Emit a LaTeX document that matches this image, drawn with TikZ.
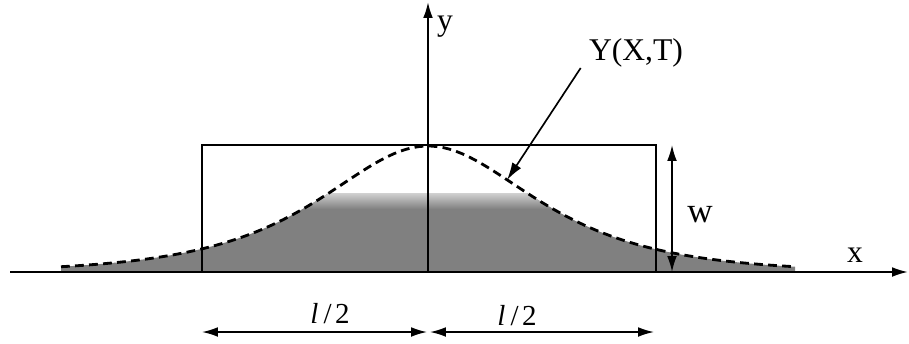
\documentclass[tikz,border=0pt]{standalone}
\usepackage{fontspec}
\setmainfont{Liberation Serif}
\usetikzlibrary{arrows.meta, positioning}

\begin{document}
\begin{tikzpicture}[x=0.02cm, y=0.02cm,
		axis/.style={-{Latex[length=9pt, width=5.5pt]}, line width=1.05pt},
		dimarrow/.style={{Latex[length=9pt, width=5.5pt]}-{Latex[length=9pt, width=5.5pt]}, line width=0.95pt},
		profile/.style={dash pattern=on 5pt off 3pt, line width=1.6pt},
		lbl/.style={anchor=base, inner sep=0pt, font=\fontsize{18}{20}\selectfont}
	]
	\useasboundingbox (0,0) rectangle (909,343);
	% shaded part of the profile
	\begin{scope}
		\clip (61,71) -- plot[domain=-367:367, samples=120] ({428+\x}, {71+126/cosh(\x/95)}) -- (795,71) -- cycle;
		\fill[black!50] (0,71) rectangle (909,150);
		\shade[top color=black!18, bottom color=black!50] (0,134) rectangle (909,150);
	\end{scope}
	\coordinate (xstart) at (10,71);
	\coordinate (xend) at (908,71);
	\coordinate (o) at (428,71);
	\coordinate (ytop) at (428,341);
	\coordinate (rbl) at (202,71);
	\coordinate (rtr) at (656,198);
	\coordinate (wtop) at (672,198);
	\coordinate (wbot) at (672,71);
	\coordinate (dl) at (202,11);
	\coordinate (dm1) at (427,11);
	\coordinate (dm2) at (430,11);
	\coordinate (dr) at (654,11);
	\coordinate (ptip) at (507,163);
	\draw[line width=1.4pt] (rbl) rectangle (rtr);
	\draw[profile] plot[domain=-367:367, samples=120] ({428+\x}, {71+126/cosh(\x/95)});
	\draw[axis] (xstart) -- (xend);
	\draw[axis] (o) -- (ytop);
	\draw[dimarrow] (wtop) -- (wbot);
	\draw[dimarrow] (dl) -- (dm1);
	\draw[dimarrow] (dm2) -- (dr);
	\node[lbl] (ylab) at (445,313) {y};
	\node[lbl] (xlab) at (855,81) {x};
	\node[lbl, font=\fontsize{20}{22}\selectfont] (wlab) at (700,121) {w};
	\node[lbl] (yxt) at (636,283) {Y(X,T)};
	\node[lbl, font=\fontsize{16.5}{18}\selectfont] (halfl) at (330,20) {\textit{l}\kern3pt/\kern2pt2};
	\node[lbl, font=\fontsize{16.5}{18}\selectfont] (halfr) at (517,18) {\textit{l}\kern3pt/\kern2pt2};
	\draw[-{Latex[length=10pt, width=6pt]}, line width=0.95pt] ([shift={(-8,-8)}]yxt.base west) -- (ptip);
\end{tikzpicture}
\end{document}
